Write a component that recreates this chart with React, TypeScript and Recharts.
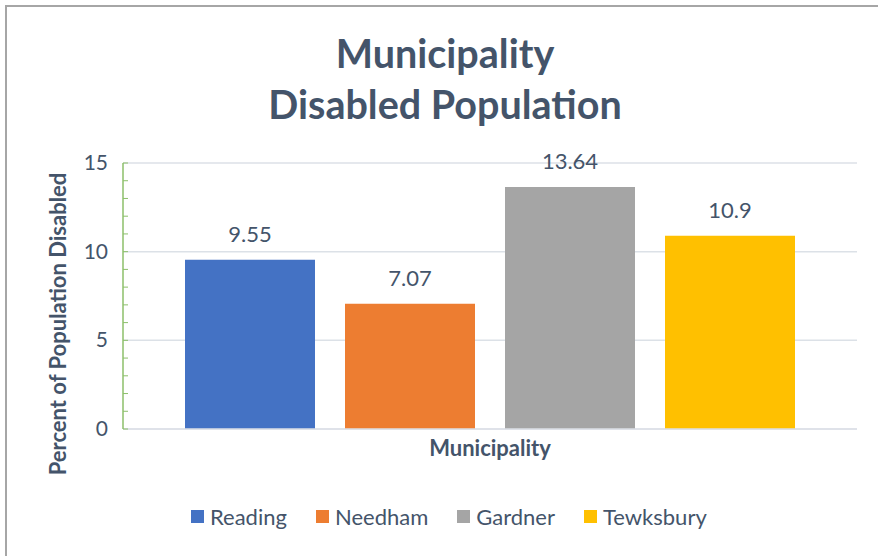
import React from 'react';
import { BarChart, Bar, XAxis, YAxis, CartesianGrid, Legend, LabelList } from 'recharts';

const categories = ['Municipality'];
const seriesNames = ['Reading', 'Needham', 'Gardner', 'Tewksbury'];
const seriesValues = [9.55, 7.07, 13.64, 10.9];
const seriesColors = ['#4472C4', '#ED7D31', '#A5A5A5', '#FFC000'];
const yTicks = [0, 1, 2, 3, 4, 5, 6, 7, 8, 9, 10, 11, 12, 13, 14, 15];
const yMajorTicks = [0, 5, 10, 15];

const data = categories.map((c) => {
  const row: Record<string, string | number> = { name: c };
  seriesNames.forEach((s, i) => {
    row[s] = seriesValues[i];
  });
  return row;
});

const TEXT = '#44546A';
const FONT = 'Lato, "Open Sans", sans-serif';

const YTick = (props: any) => {
  const { x, y, payload } = props;
  const v = payload.value;
  const major = yMajorTicks.includes(v);
  return (
    <g>
      <line x1={x} x2={x + 5} y1={y} y2={y} stroke="#8CBF6A" strokeWidth={1} />
      {major && (
        <text x={x - 15} y={y} dy={7} textAnchor="end" fill={TEXT} fontSize={21} fontFamily={FONT}>
          {v}
        </text>
      )}
    </g>
  );
};

const LegendContent = () => (
  <div style={{ display: 'flex', alignItems: 'center', fontFamily: FONT, fontSize: 22, color: TEXT }}>
    {seriesNames.map((s, i) => (
      <div key={s} style={{ display: 'flex', alignItems: 'center', marginRight: 29 }}>
        <span style={{ display: 'inline-block', width: 13, height: 13, background: seriesColors[i], marginRight: 6 }} />
        <span>{s}</span>
      </div>
    ))}
  </div>
);

export default function App() {
  return (
    <div style={{ position: 'absolute', left: 0, top: 0, width: 878, height: 556, background: '#fff', overflow: 'hidden' }}>
      <div
        style={{
          position: 'absolute',
          left: 5,
          top: 5,
          width: 880,
          height: 560,
          borderLeft: '2px solid #A6A6A6',
          borderTop: '2px solid #A6A6A6',
        }}
      />
      <div
        style={{
          position: 'absolute',
          left: 0,
          width: 890,
          top: 27,
          textAlign: 'center',
          fontFamily: FONT,
          fontWeight: 700,
          fontSize: 39.5,
          lineHeight: '51px',
          color: TEXT,
        }}
      >
        Municipality
        <br />
        Disabled Population
      </div>
      <div style={{ position: 'absolute', left: 0, top: 0 }}>
        <BarChart
          width={878}
          height={556}
          data={data}
          margin={{ top: 163, right: 21, left: 0, bottom: 87 }}
          barCategoryGap={62}
          barGap={30}
        >
          <CartesianGrid horizontal vertical={false} horizontalValues={yMajorTicks} stroke="#DCE1E7" strokeWidth={1.5} />
          <XAxis
            dataKey="name"
            tick={false}
            tickLine={false}
            axisLine={{ stroke: '#DCE1E7', strokeWidth: 1.5 }}
            height={40}
            label={(p: any) => {
              const vb = p.viewBox;
              return (
                <text
                  x={vb.x + vb.width / 2}
                  y={vb.y + 27}
                  textAnchor="middle"
                  fill={TEXT}
                  fontSize={22}
                  fontWeight={700}
                  fontFamily={FONT}
                >
                  Municipality
                </text>
              );
            }}
          />
          <YAxis
            domain={[0, 15]}
            ticks={yTicks}
            interval={0}
            width={123}
            tickSize={0}
            tickMargin={0}
            tick={<YTick />}
            axisLine={{ stroke: '#8CBF6A', strokeWidth: 1.5 }}
            label={(p: any) => {
              const vb = p.viewBox;
              const cx = 57;
              const cy = vb.y + vb.height / 2 + 28;
              return (
                <text
                  x={cx}
                  y={cy}
                  transform={`rotate(-90 ${cx} ${cy})`}
                  textAnchor="middle"
                  dominantBaseline="central"
                  fill={TEXT}
                  fontSize={22}
                  fontWeight={700}
                  fontFamily={FONT}
                >
                  Percent of Population Disabled
                </text>
              );
            }}
          />
          <Legend
            verticalAlign="middle"
            layout="horizontal"
            content={<LegendContent />}
            wrapperStyle={{ top: 503, left: 191, width: 'auto' }}
          />
          {seriesNames.map((s, i) => (
            <Bar key={s} dataKey={s} fill={seriesColors[i]} isAnimationActive={false}>
              <LabelList dataKey={s} position="top" offset={18} fill={TEXT} fontSize={22} fontFamily={FONT} />
            </Bar>
          ))}
        </BarChart>
      </div>
    </div>
  );
}
